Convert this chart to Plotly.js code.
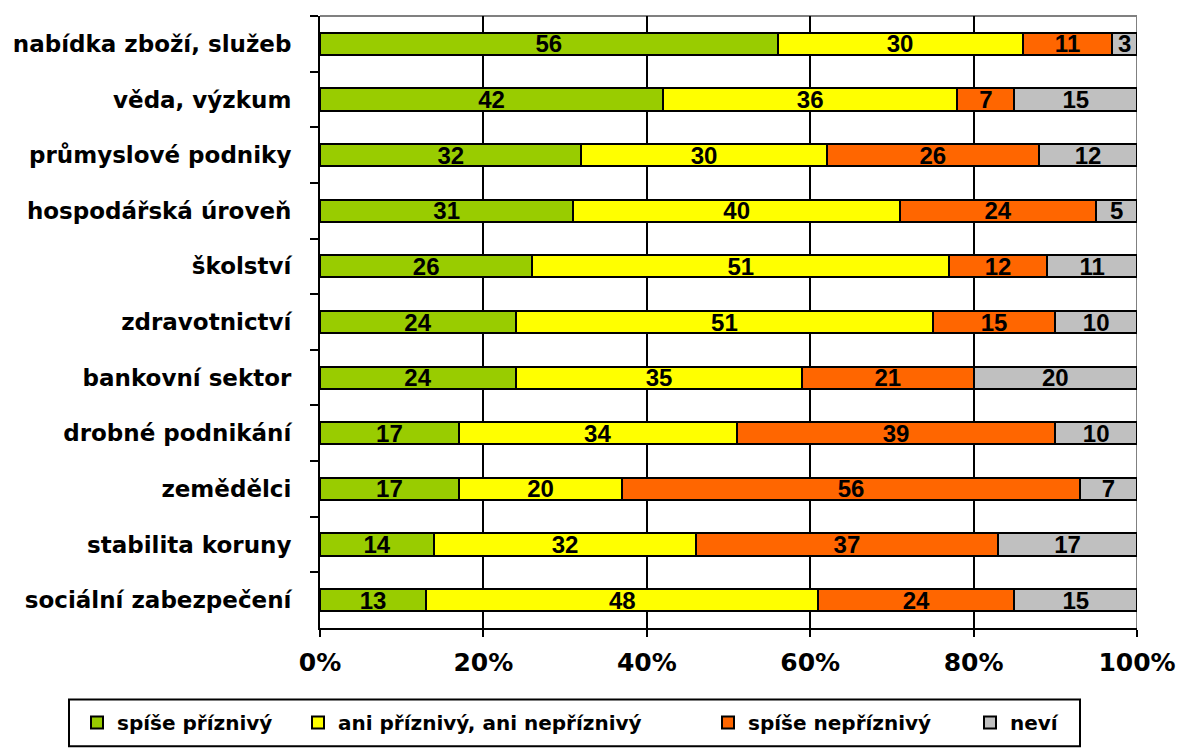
<!DOCTYPE html>
<html>
<head>
<meta charset="utf-8">
<script src="https://cdn.plot.ly/plotly-3.0.1.min.js"></script>
<style>html,body{margin:0;padding:0;background:#fff;}#chart{width:1179px;height:754px;}</style>
</head>
<body>
<div id="chart"></div>
<script>
const categories = ["nabídka zboží, služeb", "věda, výzkum", "průmyslové podniky", "hospodářská úroveň", "školství", "zdravotnictví", "bankovní sektor", "drobné podnikání", "zemědělci", "stabilita koruny", "sociální zabezpečení"];
const spisePriznivy = [56, 42, 32, 31, 26, 24, 24, 17, 17, 14, 13];
const aniAni = [30, 36, 30, 40, 51, 51, 35, 34, 20, 32, 48];
const spiseNepriznivy = [11, 7, 26, 24, 12, 15, 21, 39, 56, 37, 24];
const nevi = [3, 15, 12, 5, 11, 10, 20, 10, 7, 17, 15];
const seriesNames = ["spíše příznivý", "ani příznivý, ani nepříznivý", "spíše nepříznivý", "neví"];
const xTickVals = [0, 20, 40, 60, 80, 100];
const xTickText = ["0%", "20%", "40%", "60%", "80%", "100%"];

const colors = ["#99CC00", "#FFFF00", "#FF6600", "#C0C0C0"];
const allSeries = [spisePriznivy, aniAni, spiseNepriznivy, nevi];
const legendIds = ["legend", "legend2", "legend3", "legend4"];

const traces = allSeries.map((vals, i) => ({
  type: "bar",
  orientation: "h",
  name: seriesNames[i],
  y: categories,
  x: vals,
  text: vals.map(String),
  textposition: "inside",
  insidetextanchor: "middle",
  textangle: 0,
  constraintext: "none",
  textfont: {family: "Liberation Sans, Arial, sans-serif", size: 24, color: "#000", weight: "bold"},
  marker: {color: colors[i], line: {color: "#000", width: 2}},
  legend: legendIds[i],
  hoverinfo: "skip"
}));

const legendFont = {family: "DejaVu Sans, Verdana, sans-serif", size: 20, color: "#000", weight: "bold"};
const legendX = [77, 298, 708, 970].map(p => (p - 320) / 817);
const legendY = (632 - 727) / 616;

const layout = {
  width: 1179,
  height: 754,
  margin: {l: 320, r: 42, t: 16, b: 122},
  paper_bgcolor: "#fff",
  plot_bgcolor: "#fff",
  barmode: "stack",
  bargap: 0.6,
  showlegend: true,
  xaxis: {
    range: [0, 100],
    tickvals: xTickVals,
    ticktext: xTickText,
    ticks: "outside",
    ticklen: 7,
    tickwidth: 2,
    tickcolor: "#000",
    showline: true,
    linecolor: "#000",
    linewidth: 2,
    showgrid: true,
    gridcolor: "#000",
    gridwidth: 2,
    zeroline: false,
    tickfont: {family: "DejaVu Sans, Verdana, sans-serif", size: 25, color: "#000", weight: "bold"},
    ticklabelstandoff: 4,
    fixedrange: true
  },
  yaxis: {
    type: "category",
    autorange: "reversed",
    tickson: "boundaries",
    ticks: "outside",
    ticklen: 8,
    tickwidth: 2,
    tickcolor: "#000",
    showline: true,
    linecolor: "#000",
    linewidth: 2,
    showgrid: false,
    zeroline: false,
    tickfont: {family: "DejaVu Sans, Verdana, sans-serif", size: 23, color: "#000", weight: "bold"},
    ticklabelstandoff: 22,
    fixedrange: true
  },
  shapes: [
    {type: "line", xref: "x", yref: "paper", x0: 0, x1: 100, y0: 1, y1: 1, line: {color: "#808080", width: 2}, layer: "below"},
    {type: "line", xref: "x", yref: "paper", x0: 100, x1: 100, y0: 0, y1: 1, line: {color: "#808080", width: 2}, layer: "below"},
    {type: "rect", xref: "paper", yref: "paper", x0: (69 - 320) / 817, x1: (1080 - 320) / 817, y0: (632 - 751) / 616, y1: (632 - 704) / 616, line: {color: "#000", width: 2}, fillcolor: "rgba(0,0,0,0)"}
  ]
};

legendIds.forEach((id, i) => {
  layout[id] = {
    orientation: "h",
    x: legendX[i],
    xanchor: "left",
    y: legendY,
    yanchor: "middle",
    font: legendFont,
    bgcolor: "rgba(0,0,0,0)",
    borderwidth: 0,
    itemclick: false,
    itemdoubleclick: false
  };
});

Plotly.newPlot("chart", traces, layout, {displayModeBar: false, staticPlot: true});
</script>
</body>
</html>
